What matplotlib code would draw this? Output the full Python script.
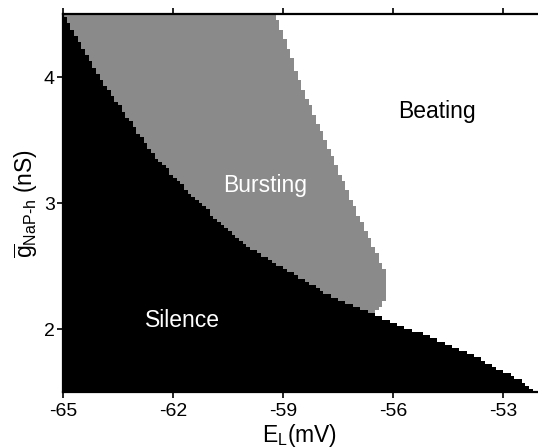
import numpy as np
import matplotlib
matplotlib.use("Agg")
import matplotlib.pyplot as plt
from matplotlib.colors import ListedColormap

# region borders: g_NaP-h (nS) -> E_L (mV)
silence_g = [1.5, 1.59, 1.75, 1.90, 2.02, 2.11, 2.26, 2.66, 3.03, 3.39, 4.0, 4.5]
silence_e = [-52.1, -52.55, -53.55, -54.7, -55.75, -56.45, -57.7, -60.0, -61.4, -62.55, -64.0, -65.0]

burst_g = [2.1, 2.18, 2.25, 2.44, 2.5, 3.03, 3.5, 3.9, 4.5]
burst_e = [-56.7, -56.36, -56.17, -56.15, -56.3, -57.15, -57.85, -58.45, -59.2]

region_names = ["Silence", "Bursting", "Beating"]
region_colors = ["black", "#8a8a8a", "white"]
label_pos = [(-61.75, 2.07), (-59.5, 3.14), (-54.8, 3.73)]
label_colors = ["white", "white", "black"]

x_ticks = [-65, -62, -59, -56, -53]
y_ticks = [2, 3, 4]

plt.rcParams["font.family"] = ["Liberation Sans", "DejaVu Sans"]
plt.rcParams["mathtext.fontset"] = "custom"
plt.rcParams["mathtext.rm"] = "Liberation Sans"
plt.rcParams["mathtext.it"] = "Liberation Sans"

# simulation grid (cell edges)
e_edges = np.arange(-65.0, -52.0, 0.1)
g_edges = np.arange(1.5, 4.5001, 0.025)
e_mid = (e_edges[:-1] + e_edges[1:]) / 2
g_mid = (g_edges[:-1] + g_edges[1:]) / 2
E, G = np.meshgrid(e_mid, g_mid)

lo = np.interp(G, silence_g, silence_e)
hi = np.interp(G, burst_g, burst_e)
state = np.full(E.shape, 2)
state[E < hi] = 1
state[E < lo] = 0

fig = plt.figure(figsize=(5.38, 4.48), dpi=100)
ax = fig.add_axes([63 / 538, 56 / 448, 474 / 538, 378 / 448])
ax.pcolormesh(e_edges, g_edges, state, cmap=ListedColormap(region_colors),
              vmin=-0.5, vmax=2.5, shading="flat")

for name, (x, y), c in zip(region_names, label_pos, label_colors):
    ax.text(x, y, name, color=c, fontsize=16.5, ha="center", va="center")

ax.set_xlim(-65, -52.08)
ax.set_ylim(1.5, 4.5)
ax.set_xticks(x_ticks)
ax.set_xticklabels([str(t) for t in x_ticks])
ax.set_yticks(y_ticks)
ax.tick_params(axis="both", direction="out", length=4, width=1.2,
               labelsize=14, pad=2)
ax.tick_params(axis="x", top=True, labeltop=False, pad=4)
ax.spines["right"].set_visible(False)
for s in ["left", "top", "bottom"]:
    ax.spines[s].set_linewidth(1.6)

ax.set_xlabel(r"E$_{\rm L}$(mV)", fontsize=16.5, labelpad=1)
ax.set_ylabel(r"$\overline{\rm g}_{\rm NaP\text{-}h}$ (nS)", fontsize=16.5, labelpad=3)

fig.savefig("out.png", dpi=100)
